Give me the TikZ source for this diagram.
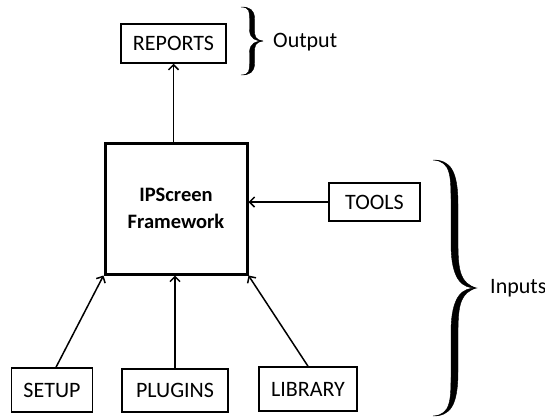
\documentclass[tikz,border=0pt]{standalone}
\usepackage{fontspec}
\setmainfont{Carlito}
\usetikzlibrary{arrows.meta}
\tikzset{
  box/.style={draw=black, line width=1.5pt, inner sep=0pt, font=\fontsize{22}{24}\selectfont},
  mainbox/.style={draw=black, line width=3pt, inner sep=0pt, align=center, font=\bfseries\fontsize{20.5}{27}\selectfont},
  arr/.style={line width=1.5pt, -{Straight Barb[length=5pt,width=10pt,line width=1.5pt]}},
  lbl/.style={inner sep=0pt, anchor=west, font=\fontsize{22}{24}\selectfont},
  bracefill/.style={fill=black, draw=black, line width=0.4pt}
}
% \mybrace{left}{top}{right}{bottom}{thickness}
\newcommand\mybrace[5]{%
  \pgfmathsetmacro\bL{#1}\pgfmathsetmacro\bT{#2}%
  \pgfmathsetmacro\bR{#3}\pgfmathsetmacro\bB{#4}%
  \pgfmathsetmacro\bW{\bR-\bL}\pgfmathsetmacro\bM{(\bT+\bB)/2}%
  \pgfmathsetmacro\bH{\bM-\bT}\pgfmathsetmacro\bC{\bL+0.5*\bW}%
  \pgfmathsetmacro\bCl{\bC-#5/2}\pgfmathsetmacro\bCr{\bC+#5/2}%
  \fill[bracefill]
    (\bL,\bT) .. controls (\bCl,\bT+0.01*\bH) and (\bCl,\bT+0.12*\bH) .. (\bCl,\bT+0.35*\bH)
    -- (\bCl,\bT+0.65*\bH) .. controls (\bCl,\bM-0.05*\bH) and (\bC+0.2*\bW,\bM) .. (\bR,\bM)
    .. controls (\bC+0.15*\bW,\bM-0.04*\bH) and (\bCr,\bM-0.12*\bH) .. (\bCr,\bT+0.65*\bH)
    -- (\bCr,\bT+0.35*\bH) .. controls (\bCr,\bT+0.08*\bH) and (\bC-0.1*\bW,\bT) .. (\bL,\bT) -- cycle;
  \fill[bracefill]
    (\bL,\bB) .. controls (\bCl,\bB-0.01*\bH) and (\bCl,\bB-0.12*\bH) .. (\bCl,\bB-0.35*\bH)
    -- (\bCl,\bB-0.65*\bH) .. controls (\bCl,\bM+0.05*\bH) and (\bC+0.2*\bW,\bM) .. (\bR,\bM)
    .. controls (\bC+0.15*\bW,\bM+0.04*\bH) and (\bCr,\bM+0.12*\bH) .. (\bCr,\bB-0.65*\bH)
    -- (\bCr,\bB-0.35*\bH) .. controls (\bCr,\bB-0.08*\bH) and (\bC-0.1*\bW,\bB) .. (\bL,\bB) -- cycle;
}
\begin{document}
\begin{tikzpicture}[x=1pt,y=-1pt]
\useasboundingbox[fill=white] (0,0) rectangle (545,418);
\node[box, minimum width=105pt, minimum height=39pt] (reports) at (173.5,43.5) {REPORTS};
\node[mainbox, minimum width=142pt, minimum height=131pt] (main) at (176,208.5) {IPScreen\\Framework};
\node[box, minimum width=91pt, minimum height=38pt] (tools) at (374.5,202) {TOOLS};
\node[box, minimum width=81pt, minimum height=44pt] (setup) at (52,390) {SETUP};
\node[box, minimum width=106pt, minimum height=43pt] (plugins) at (175,390.5) {PLUGINS};
\node[box, minimum width=98pt, minimum height=44pt] (library) at (308,389) {LIBRARY};
\node[lbl] (output) at (273,42) {Output};
\node[lbl] (inputs) at (490,288) {Inputs};
\mybrace{241}{7}{263}{75}{5}
\mybrace{433}{160}{476}{416}{7}
\draw[arr] (main.north -| reports.south) -- (reports.south);
\draw[arr] (tools.west) -- (main.east |- tools.west);
\draw[arr] ([xshift=4pt]setup.north) -- (main.south west);
\draw[arr] (plugins.north) -- (plugins.north |- main.south);
\draw[arr] (library.north) -- (main.south east);
\end{tikzpicture}
\end{document}
